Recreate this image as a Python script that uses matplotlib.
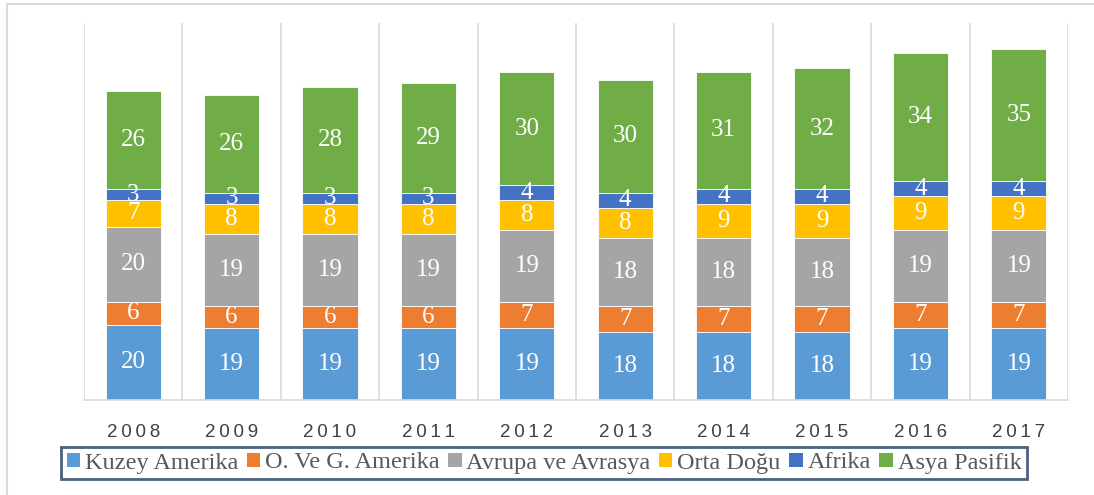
import matplotlib.pyplot as plt
import numpy as np
from matplotlib.patches import Patch
from matplotlib.lines import Line2D

years = [2008, 2009, 2010, 2011, 2012, 2013, 2014, 2015, 2016, 2017]
series_names = ['Kuzey Amerika', 'O. Ve G. Amerika', 'Avrupa ve Avrasya',
                'Orta Doğu', 'Afrika', 'Asya Pasifik']
kuzey = [20, 19, 19, 19, 19, 18, 18, 18, 19, 19]
oveg = [6, 6, 6, 6, 7, 7, 7, 7, 7, 7]
avrupa = [20, 19, 19, 19, 19, 18, 18, 18, 19, 19]
orta = [7, 8, 8, 8, 8, 8, 9, 9, 9, 9]
afrika = [3, 3, 3, 3, 4, 4, 4, 4, 4, 4]
asya = [26, 26, 28, 29, 30, 30, 31, 32, 34, 35]
colors = ['#5B9BD5', '#ED7D31', '#A5A5A5', '#FFC000', '#4472C4', '#70AD47']

fig = plt.figure(figsize=(10.94, 4.95), dpi=100)
ax = fig.add_axes([84 / 1094, 95 / 495, 984 / 1094, 377 / 495])

x = np.arange(len(years))
bottom = np.zeros(len(years))
for name, vals, c in zip(series_names, [kuzey, oveg, avrupa, orta, afrika, asya], colors):
    vals = np.array(vals, dtype=float)
    ax.bar(x, vals, 0.56, bottom=bottom, color=c, edgecolor='white',
           linewidth=0.6, label=name)
    for xi, b, v in zip(x, bottom, vals):
        ax.text(xi, b + v / 2, str(int(v)), ha='center', va='center',
                color='white', fontsize=18, family='Liberation Serif')
    bottom += vals

ax.set_xlim(-0.5, len(years) - 0.5)
ax.set_ylim(0, 100)
ax.set_yticks([])
for xb in np.arange(-0.5, len(years), 1.0):
    ax.axvline(xb, color='#D9D9D9', linewidth=1.2, zorder=0)
for s in ['top', 'left', 'right']:
    ax.spines[s].set_visible(False)
ax.spines['bottom'].set_color('#D9D9D9')
ax.spines['bottom'].set_linewidth(1.2)
ax.set_xticks(x)
ax.set_xticklabels(['\u2009'.join(str(y)) for y in years], fontsize=13.5,
                   family='Liberation Sans', color='#404040')
ax.tick_params(axis='x', length=0, pad=17)

handles = [Patch(facecolor=c, edgecolor='none') for c in colors]
leg = fig.legend(handles, series_names, ncol=6, loc='center',
                 bbox_to_anchor=(544 / 1094, 1 - 463 / 495),
                 prop={'family': 'Liberation Serif', 'size': 17.5},
                 frameon=True, fancybox=False, handlelength=0.55, handleheight=0.55,
                 handletextpad=0.2, columnspacing=0.35, borderpad=0.22)
leg.get_frame().set_edgecolor('#1F3864')
leg.get_frame().set_linewidth(2)
for t in leg.get_texts():
    t.set_color('#595959')

fig.add_artist(Line2D([6.5 / 1094, 6.5 / 1094], [0, 1 - 4 / 495],
                      transform=fig.transFigure, color='#D9D9D9', linewidth=1.5))
fig.add_artist(Line2D([6.5 / 1094, 1], [1 - 4 / 495, 1 - 4 / 495],
                      transform=fig.transFigure, color='#D9D9D9', linewidth=1.5))

fig.savefig('out.png', dpi=100)
